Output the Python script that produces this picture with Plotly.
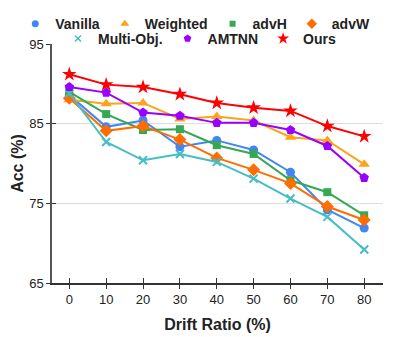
import plotly.graph_objects as go

drift_ratio = [0, 10, 20, 30, 40, 50, 60, 70, 80]

vanilla = [88.6, 84.6, 85.4, 82.1, 82.9, 81.7, 78.9, 74.2, 71.9]
weighted = [88.0, 87.5, 87.6, 85.6, 85.9, 85.4, 83.3, 82.9, 79.9]
adv_h = [89.0, 86.2, 84.2, 84.3, 82.3, 81.2, 77.9, 76.4, 73.5]
adv_w = [88.2, 84.1, 84.7, 83.0, 80.7, 79.2, 77.5, 74.6, 72.9]
multi_obj = [88.8, 82.7, 80.4, 81.2, 80.2, 78.1, 75.6, 73.3, 69.2]
amtnn = [89.6, 88.9, 86.4, 86.0, 85.1, 85.1, 84.2, 82.2, 78.2]
ours = [91.2, 89.9, 89.6, 88.7, 87.6, 87.0, 86.6, 84.7, 83.4]

series = [
    ("Vanilla", vanilla, "#4285F4", "circle", 9, "legend"),
    ("Weighted", weighted, "#FBA31B", "triangle-up", 10, "legend"),
    ("advH", adv_h, "#34A853", "square", 8, "legend"),
    ("advW", adv_w, "#FF6D01", "diamond", 10, "legend"),
    ("Multi-Obj.", multi_obj, "#46BDC6", "x-thin", 8, "legend2"),
    ("AMTNN", amtnn, "#9900FF", "pentagon", 10, "legend2"),
    ("Ours", ours, "#FF0000", "star", 11, "legend2"),
]

fig = go.Figure()

for name, values, color, symbol, size, legend in series:
    marker = {"color": color, "symbol": symbol, "size": size}
    if symbol == "x-thin":
        marker["line"] = {"color": color, "width": 2}
    fig.add_trace(
        go.Scatter(
            x=drift_ratio,
            y=values,
            mode="lines+markers",
            name=name,
            line={"color": color, "width": 2},
            marker=marker,
            showlegend=False,
        )
    )

# legend entries show a small marker only, like the original figure
for name, values, color, symbol, size, legend in series:
    marker = {"color": color, "symbol": symbol, "size": size - 2}
    if symbol == "x-thin":
        marker["line"] = {"color": color, "width": 1.5}
    fig.add_trace(
        go.Scatter(x=[None], y=[None], mode="markers", name=name,
                   marker=marker, legend=legend)
    )

# invisible trace on the overlay axes so the inner tick marks are drawn
fig.add_trace(
    go.Scatter(x=drift_ratio, y=ours, xaxis="x2", yaxis="y2",
               mode="none", showlegend=False, hoverinfo="skip")
)

font = "Liberation Sans, Arial, sans-serif"
legend_style = {
    "orientation": "h",
    "yanchor": "top",
    "font": {"family": font, "size": 14, "color": "#222", "weight": "bold"},
    "bgcolor": "rgba(0,0,0,0)",
    "itemwidth": 30,
    "tracegroupgap": 0,
}

# margins allow for the 8px default page margin around the plot div
fig.update_layout(
    width=399,
    height=337,
    margin={"l": 44, "r": 24, "t": 36, "b": 62, "autoexpand": False},
    plot_bgcolor="white",
    paper_bgcolor="white",
    font={"family": font, "size": 13, "color": "#222"},
    showlegend=True,
    legend={**legend_style, "x": -0.111, "xanchor": "left", "y": 1.15},
    legend2={**legend_style, "x": 0.4456, "xanchor": "center", "y": 1.088},
    xaxis={
        "range": [-4.7, 85.1],
        "tickvals": drift_ratio,
        "ticks": "outside",
        "ticklen": 4,
        "tickcolor": "#333",
        "showline": True,
        "linecolor": "#333",
        "linewidth": 1.5,
        "showgrid": False,
        "zeroline": False,
        "title": {"text": "<b>Drift Ratio (%)</b>", "font": {"size": 16}, "standoff": 12},
    },
    yaxis={
        "range": [65, 95],
        "tickvals": [65, 75, 85, 95],
        "ticks": "outside",
        "ticklen": 4,
        "tickcolor": "#333",
        "showline": True,
        "linecolor": "#555",
        "linewidth": 1.5,
        "showgrid": True,
        "gridcolor": "#DDDDDD",
        "zeroline": False,
        "title": {"text": "<b>Acc (%)</b>", "font": {"size": 16}, "standoff": 2},
    },
    xaxis2={
        "overlaying": "x",
        "matches": "x",
        "tickvals": drift_ratio,
        "ticks": "inside",
        "ticklen": 5,
        "tickcolor": "#333",
        "showticklabels": False,
        "showgrid": False,
        "zeroline": False,
        "side": "bottom",
    },
    yaxis2={
        "overlaying": "y",
        "matches": "y",
        "tickvals": [65, 75, 85, 95],
        "ticks": "inside",
        "ticklen": 4,
        "tickcolor": "#333",
        "showticklabels": False,
        "showgrid": False,
        "zeroline": False,
    },
)

fig.write_html("out.html")
